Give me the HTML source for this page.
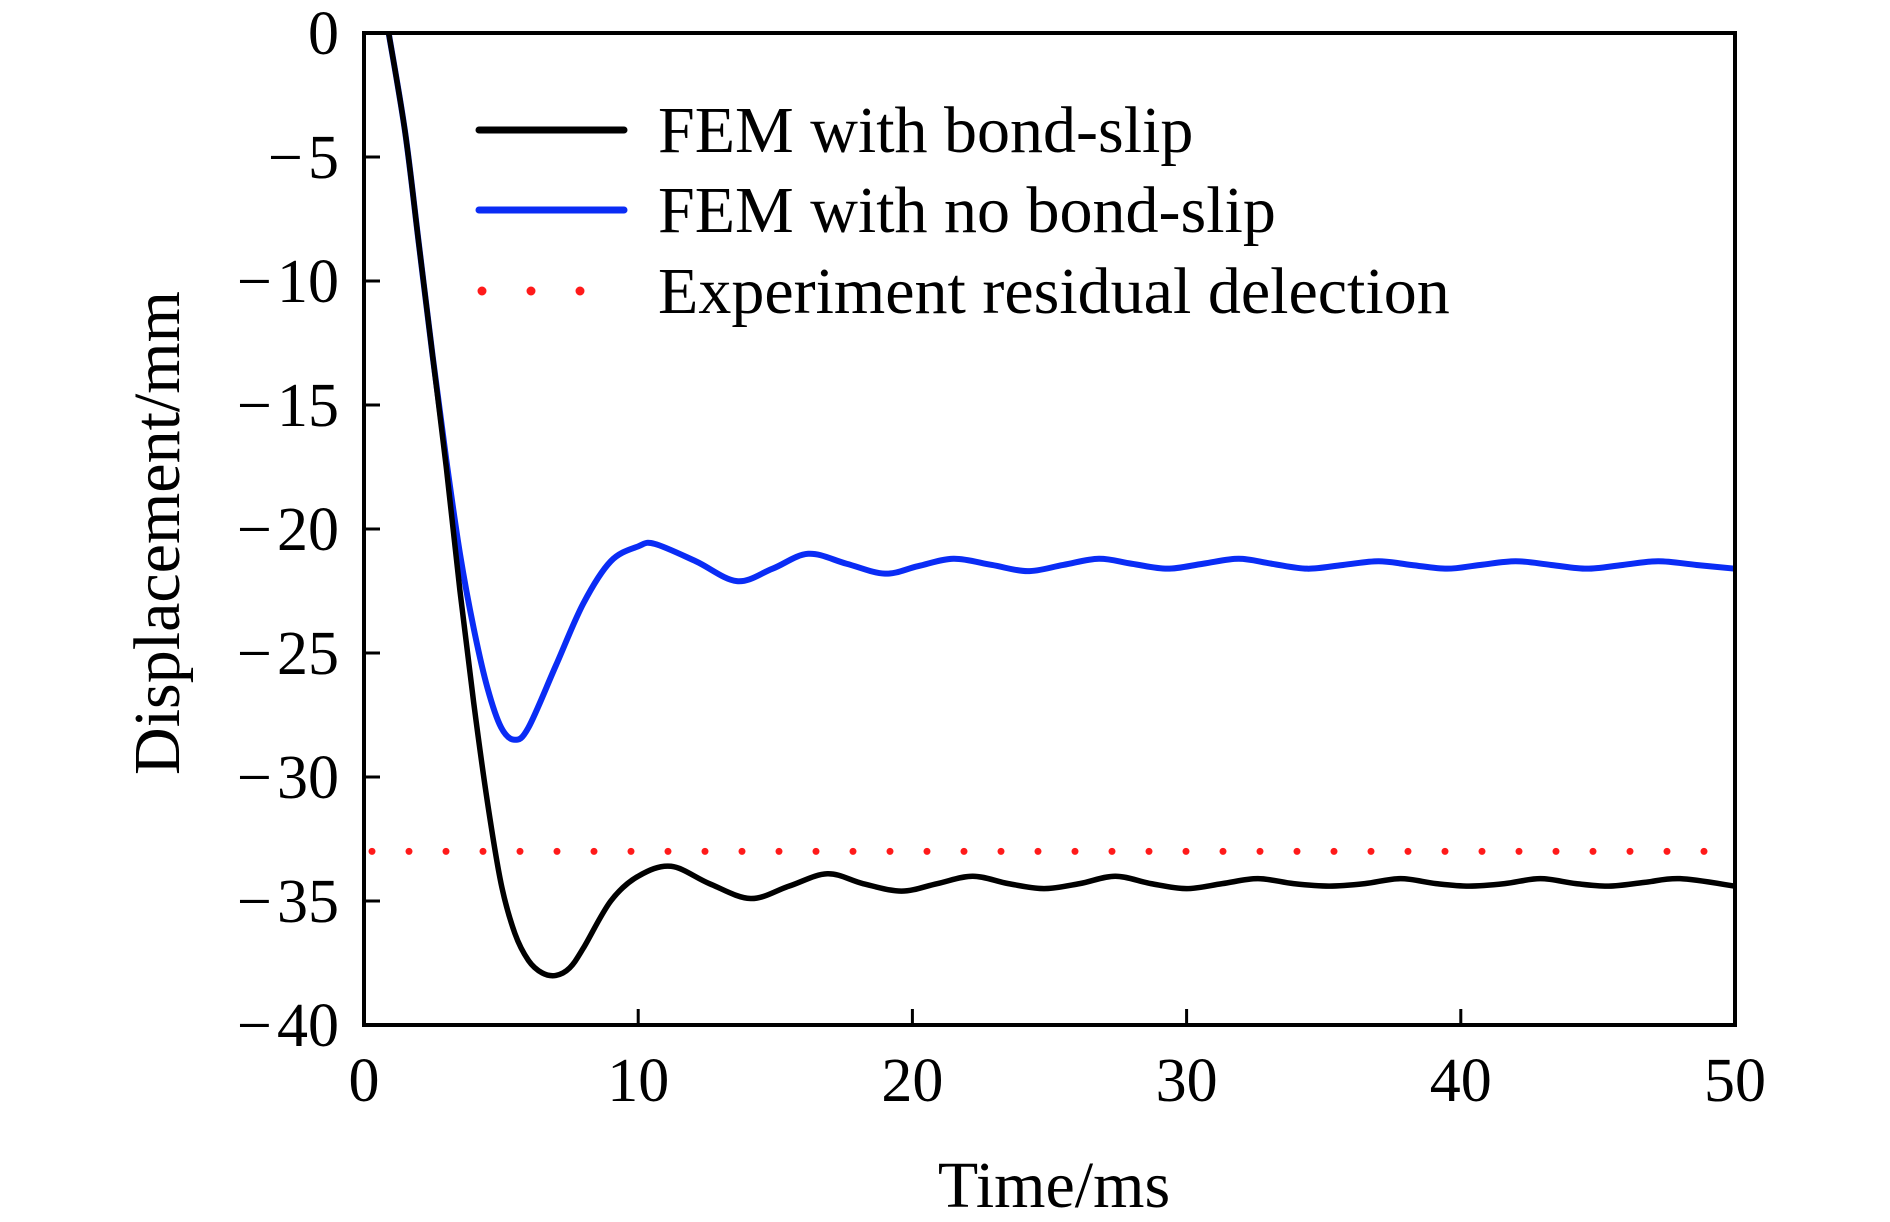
<!DOCTYPE html>
<html><head><meta charset="utf-8"><style>
html,body{margin:0;padding:0;background:#fff;}
svg{display:block;font-family:"Liberation Serif","Times New Roman",serif;}
</style></head><body>
<svg id="chart" width="1890" height="1222" viewBox="0 0 1890 1222" xmlns="http://www.w3.org/2000/svg">
<g id="plot"></g>
</svg>
<script>
const xTicks=[0,10,20,30,40,50];
const yTicks=[0,-5,-10,-15,-20,-25,-30,-35,-40];
const bondT=[0.9,1.5,2,2.5,3,3.5,4,4.5,5,5.5,6,6.5,7,7.5,8,9,10,11.2,12.6,14.1,15.5,16.9,18.2,19.6,20.9,22.2,23.5,24.8,26.1,27.4,28.7,30,31.3,32.6,33.9,35.2,36.5,37.8,39.1,40.3,41.6,42.9,44.2,45.4,46.7,48,50];
const bondY=[0,-4,-8.5,-13,-17.5,-22.5,-27,-31,-34.3,-36.3,-37.4,-37.9,-38,-37.7,-36.9,-35,-34,-33.6,-34.3,-34.9,-34.4,-33.9,-34.3,-34.6,-34.3,-34.0,-34.3,-34.5,-34.3,-34.0,-34.3,-34.5,-34.3,-34.1,-34.3,-34.4,-34.3,-34.1,-34.3,-34.4,-34.3,-34.1,-34.3,-34.4,-34.25,-34.1,-34.4];
const noBondT=[0.9,1.5,2,2.5,3,3.5,4,4.5,5,5.5,6,7,8,9,10,10.6,12.1,13.6,14.9,16.2,17.6,19,20.2,21.5,22.9,24.2,25.5,26.8,28,29.3,30.6,31.9,33.1,34.4,35.7,37,38.2,39.5,40.7,42,43.3,44.6,45.9,47.2,48.6,50];
const noBondY=[0,-4,-8.5,-13,-17.2,-21,-24,-26.4,-28,-28.5,-28,-25.5,-23,-21.3,-20.7,-20.6,-21.3,-22.1,-21.6,-21.0,-21.4,-21.8,-21.5,-21.2,-21.45,-21.7,-21.45,-21.2,-21.4,-21.6,-21.4,-21.2,-21.4,-21.6,-21.45,-21.3,-21.45,-21.6,-21.45,-21.3,-21.45,-21.6,-21.45,-21.3,-21.45,-21.6];
const expValue=-33;
const legendLabels=["FEM with bond-slip","FEM with no bond-slip","Experiment residual delection"];

const NS="http://www.w3.org/2000/svg";
const L=364,R=1735,T=33,B=1025;
const xs=t=>L+(t-0)/(50-0)*(R-L);
const ys=v=>T+(0-v)/(0-(-40))*(B-T);
const plot=document.getElementById('plot');
function mk(tag,attrs,parent){const e=document.createElementNS(NS,tag);for(const k in attrs)e.setAttribute(k,attrs[k]);(parent||plot).appendChild(e);return e;}
function smooth(T_,Y_){
  const p=T_.map((t,i)=>[xs(t),ys(Y_[i])]);
  let d=`M${p[0][0]},${p[0][1]}`;
  for(let i=0;i<p.length-1;i++){
    const p0=p[i-1]||p[i],p1=p[i],p2=p[i+1],p3=p[i+2]||p2;
    const c1=[p1[0]+(p2[0]-p0[0])/6,p1[1]+(p2[1]-p0[1])/6];
    const c2=[p2[0]-(p3[0]-p1[0])/6,p2[1]-(p3[1]-p1[1])/6];
    d+=` C${c1[0]},${c1[1]} ${c2[0]},${c2[1]} ${p2[0]},${p2[1]}`;
  }
  return d;
}
const ex=mk('line',{x1:xs(0)+8,x2:xs(50),y1:ys(expValue),y2:ys(expValue),stroke:'#ff1a1a','stroke-width':7,'stroke-dasharray':'0 37','stroke-linecap':'round'});


const cb=mk('path',{d:smooth(noBondT,noBondY),fill:'none',stroke:'#0a2cf5','stroke-width':6,'stroke-linejoin':'round'});


const ck=mk('path',{d:smooth(bondT,bondY),fill:'none',stroke:'#000','stroke-width':5.5,'stroke-linejoin':'round'});


mk('rect',{x:L,y:0,width:R-L,height:T-2,fill:'#fff'});
const fr=mk('rect',{x:L,y:T,width:R-L,height:B-T,fill:'none',stroke:'#000','stroke-width':4});


xTicks.forEach(t=>{
  const tk=mk('line',{x1:xs(t),x2:xs(t),y1:B,y2:B-16,stroke:'#000','stroke-width':3});
  
  
  const tx=mk('text',{x:xs(t),y:1101,'text-anchor':'middle','font-size':62,fill:'#000'});
  tx.textContent=String(t);
  
  
});
yTicks.forEach(v=>{
  const tk=mk('line',{x1:L,x2:L+16,y1:ys(v),y2:ys(v),stroke:'#000','stroke-width':3});
  
  
  const tx=mk('text',{x:339,y:ys(v)+21,'text-anchor':'end','font-size':62,fill:'#000'});
  tx.textContent=v===0?'0':'\u2212\u200A'+Math.abs(v);
  
  
});
const xt=mk('text',{x:1054,y:1207,'text-anchor':'middle','font-size':66,fill:'#000'});
xt.textContent='Time/ms';


const yt=mk('text',{x:0,y:0,'text-anchor':'middle','font-size':66,fill:'#000',transform:'translate(179,533) rotate(-90)'});
yt.textContent='Displacement/mm';


const legY=[130,210,291];
const legStyles=[{stroke:'#000',w:7,dash:null},{stroke:'#0a2cf5',w:7,dash:null},{stroke:'#ff1a1a',w:9,dash:'0 49'}];
legendLabels.forEach((lab,i)=>{
  const s=legStyles[i];
  const a={x1:i===2?482:479,x2:i===2?590:624,y1:legY[i],y2:legY[i],stroke:s.stroke,'stroke-width':s.w,'stroke-linecap':'round'};
  if(s.dash)a['stroke-dasharray']=s.dash;
  const ln=mk('line',a);
  
  
  const tx=mk('text',{x:658,y:legY[i]+22,'font-size':66,fill:'#000'});
  tx.textContent=lab;
  
  
});
</script>
</body></html>
